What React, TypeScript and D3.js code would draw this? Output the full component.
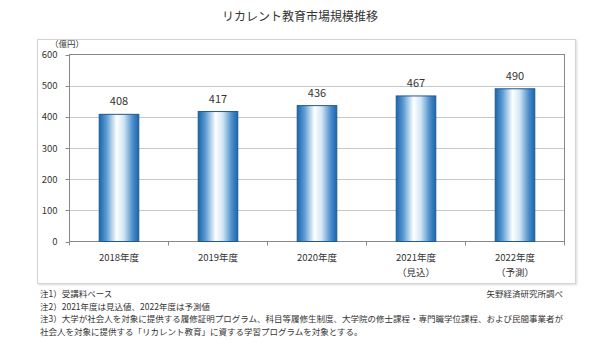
import React from "react";
import * as d3 from "d3";

const categories = ["2018年度", "2019年度", "2020年度", "2021年度", "2022年度"];
const subLabels = ["", "", "", "（見込）", "（予測）"];
const values = [408, 417, 436, 467, 490];
const yTicks = [0, 100, 200, 300, 400, 500, 600];
const title = "リカレント教育市場規模推移";
const unitLabel = "（億円）";
const notes = [
  "注1）受講料ベース",
  "注2）2021年度は見込値、2022年度は予測値",
  "注3）大学が社会人を対象に提供する履修証明プログラム、科目等履修生制度、大学院の修士課程・専門職学位課程、および民間事業者が",
  "社会人を対象に提供する「リカレント教育」に資する学習プログラムを対象とする。",
];
const source = "矢野経済研究所調べ";

const W = 600;
const H = 354;
const font = "'Noto Sans CJK JP', 'Noto Sans', sans-serif";

export default function App() {
  const left = 69.5;
  const right = 564.5;
  const top = 54.5;
  const bottom = 241.5;
  const x = d3.scaleBand<string>().domain(categories).range([left, right]).paddingInner(0.6).paddingOuter(0.3);
  const xb = d3.scaleBand<string>().domain(categories).range([left, right]);
  const y = d3.scaleLinear().domain([0, 600]).range([bottom, top]);

  return (
    <svg width={W} height={H} style={{ position: "absolute", left: 0, top: 0, background: "#fff" }} fontFamily={font}>
      <defs>
        <linearGradient id="barGrad" x1="0" x2="1" y1="0" y2="0">
          <stop offset="0%" stopColor="#1a66ad" />
          <stop offset="18%" stopColor="#5a9ad2" />
          <stop offset="44%" stopColor="#ffffff" />
          <stop offset="62%" stopColor="#d2e6f6" />
          <stop offset="85%" stopColor="#4a8dca" />
          <stop offset="100%" stopColor="#1a66ad" />
        </linearGradient>
        <filter id="shadow" x="-5%" y="-5%" width="110%" height="110%">
          <feDropShadow dx="1" dy="1" stdDeviation="1" floodColor="#000" floodOpacity="0.15" />
        </filter>
      </defs>
      <text x={300} y={21} textAnchor="middle" fontSize={12} fill="#333">{title}</text>
      <rect x={37.5} y={39.5} width={538} height={244} fill="#fff" stroke="#d4d4d4" filter="url(#shadow)" />
      <text x={50} y={46.5} fontSize={8.5} fill="#333">{unitLabel}</text>
      {yTicks.map((t) => (
        <g key={t}>
          {t > 0 && t < 600 && (
            <line x1={left} x2={right} y1={Math.round(y(t)) + 0.5} y2={Math.round(y(t)) + 0.5} stroke="#c8c8c8" />
          )}
          <line x1={left - 4} x2={left} y1={Math.round(y(t)) + 0.5} y2={Math.round(y(t)) + 0.5} stroke="#888" />
          <text x={left - 12} y={y(t) + 3.5} textAnchor="end" fontSize={9.5} fill="#333">{t}</text>
        </g>
      ))}
      <rect x={left} y={top} width={right - left} height={bottom - top} fill="none" stroke="#888" />
      {categories.map((c) => (
        <line key={c} x1={(xb(c) as number) + xb.bandwidth()} x2={(xb(c) as number) + xb.bandwidth()} y1={bottom} y2={bottom + 4} stroke="#888" />
      ))}
      <line x1={left} x2={left} y1={bottom} y2={bottom + 4} stroke="#888" />
      {categories.map((c, i) => {
        const bx = x(c) as number;
        const by = y(values[i]);
        const cx = bx + x.bandwidth() / 2;
        return (
          <g key={c}>
            <rect x={bx} y={by} width={x.bandwidth()} height={bottom - by} fill="url(#barGrad)" stroke="#1f5a8f" strokeWidth={1} />
            <text x={cx} y={by - 9} textAnchor="middle" fontSize={11} fill="#333">{values[i]}</text>
            <text x={cx} y={261} textAnchor="middle" fontSize={9.5} fill="#333">{c}</text>
            {subLabels[i] && (
              <text x={cx} y={276} textAnchor="middle" fontSize={9.5} fill="#333">{subLabels[i]}</text>
            )}
          </g>
        );
      })}
      {notes.map((n, i) => (
        <text key={i} x={40} y={297 + i * 12.5} fontSize={8.5} fill="#333">{n}</text>
      ))}
      <text x={563} y={297} textAnchor="end" fontSize={8.5} fill="#333">{source}</text>
    </svg>
  );
}
